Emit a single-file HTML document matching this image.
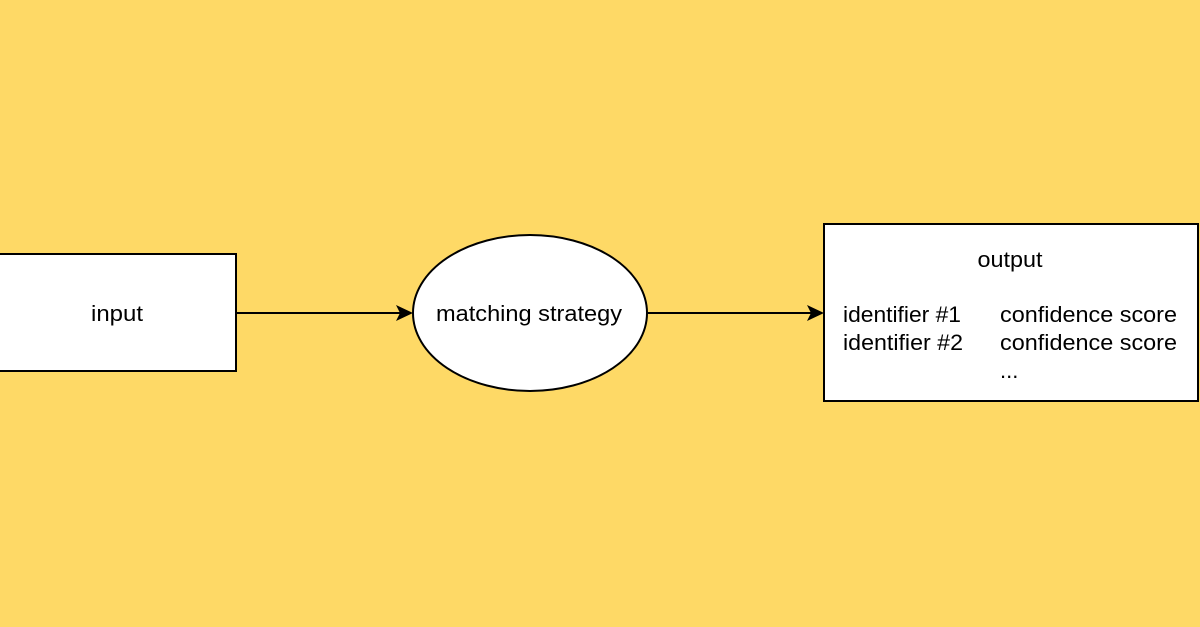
<!DOCTYPE html>
<html><head><meta charset="utf-8"><style>
html,body{margin:0;padding:0;background:#FED966;}
svg{display:block}
text{font-family:"Liberation Sans",Arial,sans-serif;font-size:22px;fill:#000}
</style></head><body>
<svg width="1200" height="627" viewBox="0 0 1200 627" xmlns="http://www.w3.org/2000/svg">
<rect width="1200" height="627" fill="#FED966"/>
<rect x="-1" y="254" width="237" height="117" fill="#fff" stroke="#000" stroke-width="2"/>
<text x="117" y="321" text-anchor="middle" textLength="52" lengthAdjust="spacingAndGlyphs">input</text>
<line x1="236" y1="313" x2="400" y2="313" stroke="#000" stroke-width="2"/>
<polygon points="413,313 396,305 400,313 396,321" fill="#000"/>
<ellipse cx="530" cy="313" rx="117" ry="78" fill="#fff" stroke="#000" stroke-width="2"/>
<text x="529" y="321" text-anchor="middle" textLength="186" lengthAdjust="spacingAndGlyphs">matching strategy</text>
<line x1="648" y1="313" x2="811" y2="313" stroke="#000" stroke-width="2"/>
<polygon points="824,313 807,305 811,313 807,321" fill="#000"/>
<rect x="824" y="224" width="374" height="177" fill="#fff" stroke="#000" stroke-width="2"/>
<text x="1010" y="267" text-anchor="middle" textLength="65" lengthAdjust="spacingAndGlyphs">output</text>
<text x="843" y="322" textLength="118" lengthAdjust="spacingAndGlyphs">identifier #1</text>
<text x="1000" y="322" textLength="177" lengthAdjust="spacingAndGlyphs">confidence score</text>
<text x="843" y="350" textLength="120" lengthAdjust="spacingAndGlyphs">identifier #2</text>
<text x="1000" y="350" textLength="177" lengthAdjust="spacingAndGlyphs">confidence score</text>
<text x="1000" y="378">...</text>
</svg>
</body></html>
